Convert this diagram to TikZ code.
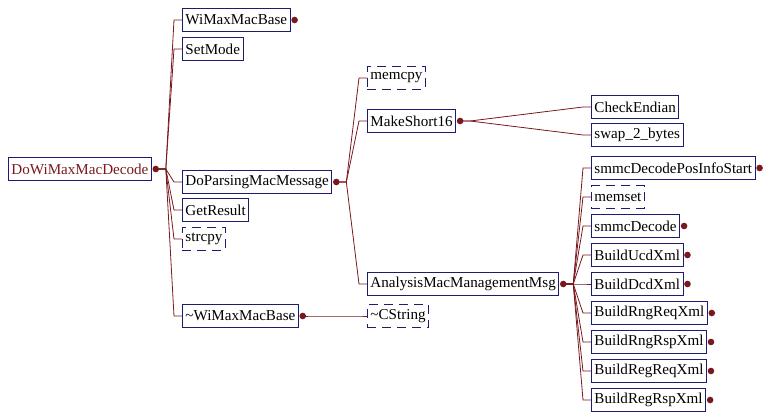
\documentclass[tikz,border=0pt]{standalone}
\usepackage{fontspec}
\setmainfont{Liberation Serif}
\usepackage{tikz}
\usetikzlibrary{calc}

\definecolor{linkred}{RGB}{122,24,30}
\definecolor{boxblue}{RGB}{28,28,112}

\begin{document}
\begin{tikzpicture}[x=1pt, y=-1pt,
    func/.style={draw=boxblue, line width=0.9pt, anchor=west,
      minimum height=23pt, inner xsep=3pt, inner ysep=0pt,
      font=\fontsize{15.1}{16}\selectfont},
    extern/.style={func, dash pattern=on 9pt off 6pt},
    link/.style={draw=linkred, line width=0.8pt}]
    \path [use as bounding box]
      (0, 0) rectangle (779, 420);

    \newcommand{\afunc}[4][func]{
      \node[#1] (#2) at (#3) {#4};
    }
    \newcommand{\ahub}[1]{
      \fill[linkred] ($(#1.east)+(4,0)$) circle (3.3pt);
    }
    \newcommand{\acall}[2]{
      \draw[link] ($(#1.east)+(4,0)$) -- ++(10,0)
        -- ($(#2.west)+(-8,0)$) -- (#2.west);
    }

    \afunc{decode}{8, 169}{\textcolor{linkred}{DoWiMaxMacDecode}}
    \afunc{base}{182, 20}{WiMaxMacBase}
    \afunc{setmode}{182, 49}{SetMode}
    \afunc{parsing}{182, 182}{DoParsingMacMessage}
    \afunc{result}{182, 210}{GetResult}
    \afunc[extern]{strcpy}{182, 239}{strcpy}
    \afunc{nobase}{182, 316}{\textasciitilde WiMaxMacBase}

    \afunc[extern]{memcpy}{367, 78}{memcpy}
    \afunc{short}{367, 121}{MakeShort16}
    \afunc{analysis}{367, 284}{AnalysisMacManagementMsg}
    \afunc[extern]{cstring}{367, 316}{\textasciitilde CString}

    \afunc{endian}{591, 107}{CheckEndian}
    \afunc{swap}{591, 135}{swap\_2\_bytes}
    \afunc{posinfo}{591, 168}{smmcDecodePosInfoStart}
    \afunc[extern]{memset}{591, 197}{memset}
    \afunc{smmc}{591, 226}{smmcDecode}
    \afunc{ucd}{591, 255}{BuildUcdXml}
    \afunc{dcd}{591, 284}{BuildDcdXml}
    \afunc{rngreq}{591, 313}{BuildRngReqXml}
    \afunc{rngrsp}{591, 342}{BuildRngRspXml}
    \afunc{regreq}{591, 371}{BuildRegReqXml}
    \afunc{regrsp}{591, 400}{BuildRegRspXml}

    \foreach \callee in {base, setmode, parsing, result, strcpy, nobase}
      {\acall{decode}{\callee}}
    \foreach \callee in {memcpy, short, analysis}
      {\acall{parsing}{\callee}}
    \foreach \callee in {endian, swap}
      {\acall{short}{\callee}}
    \acall{nobase}{cstring}
    \foreach \callee in {posinfo, memset, smmc, ucd, dcd,
                         rngreq, rngrsp, regreq, regrsp}
      {\acall{analysis}{\callee}}

    \foreach \caller in {decode, base, parsing, nobase, short, analysis,
                         posinfo, smmc, ucd, dcd, rngreq, rngrsp, regreq, regrsp}
      {\ahub{\caller}}

  \end{tikzpicture}
\end{document}
